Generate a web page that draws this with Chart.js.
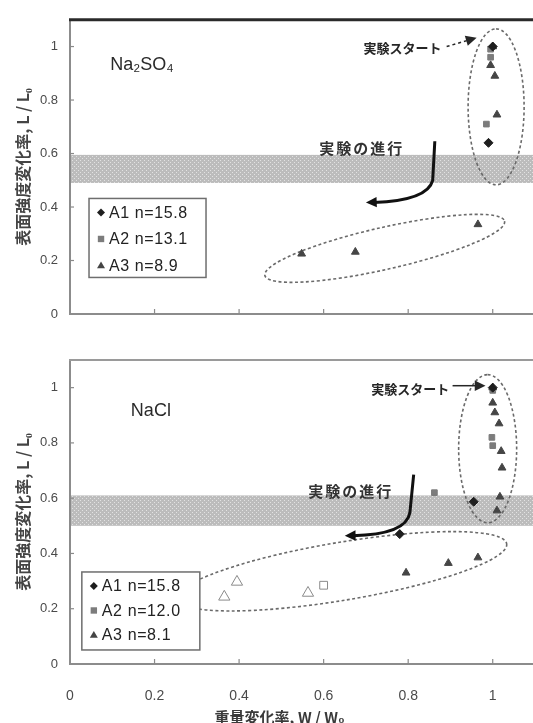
<!DOCTYPE html>
<html lang="ja">
<head>
<meta charset="UTF-8">
<title>表面強度変化率と重量変化率</title>
<script src="https://cdn.jsdelivr.net/npm/chart.js"></script>
<style>
  html, body { margin: 0; padding: 0; background: #fff; overflow: hidden; }
  #wrap { position: relative; width: 533px; height: 723px; overflow: hidden; }
  .box { position: absolute; left: 0; width: 545px; }
  #topBox { top: 0; height: 340px; }
  #botBox { top: 340px; height: 383px; }
</style>
</head>
<body>
<div id="wrap">
  <div class="box" id="topBox"><canvas id="chartTop"></canvas></div>
  <div class="box" id="botBox"><canvas id="chartBottom"></canvas></div>
</div>

<script>
/****************************************************************
  1) DATA  (W/W0 on x, L/L0 on y)
****************************************************************/
// Na2SO4 panel
const so4A1_W = [1.00, 0.99];
const so4A1_L = [1.00, 0.64];
const so4A2_W = [0.995, 0.995, 0.985];
const so4A2_L = [0.99, 0.96, 0.71];
const so4A3_W = [1.00, 0.995, 1.005, 1.01, 0.965, 0.675, 0.548];
const so4A3_L = [1.00, 0.93, 0.89, 0.745, 0.335, 0.232, 0.225];

// NaCl panel
const clA1_W = [1.00, 0.955, 0.78];
const clA1_L = [1.00, 0.587, 0.47];
const clA2_W = [1.00, 0.998, 1.00, 0.862];
const clA2_L = [0.99, 0.82, 0.79, 0.62];
const clA3_W = [1.00, 1.00, 1.005, 1.015, 1.02, 1.022, 1.017, 1.01, 0.965, 0.895, 0.795];
const clA3_L = [1.00, 0.945, 0.91, 0.87, 0.77, 0.71, 0.605, 0.555, 0.385, 0.365, 0.33];
// open markers (no legend entry)
const clA2open_W = [0.60];
const clA2open_L = [0.285];
const clA3open_W = [0.365, 0.395, 0.563];
const clA3open_L = [0.243, 0.297, 0.257];

// legend texts
const legendTop    = ['A1 n=15.8', 'A2 n=13.1', 'A3 n=8.9'];
const legendBottom = ['A1 n=15.8', 'A2 n=12.0', 'A3 n=8.1'];

// shaded band limits (L/L0)
const bandTop    = [0.49, 0.595];
const bandBottom = [0.50, 0.61];

const xTitle = '重量変化率, W / W₀';
const yTitle = '表面強度変化率, L / L₀';

/****************************************************************
  2) ANNOTATIONS (value coordinates)
****************************************************************/
const decoCfg = {
  chartTop: {
    band: bandTop,
    topBorder: { color: '#2a2a2a', width: 3 },
    salt: { text: 'Na₂SO₄', at: [0.095, 0.93] },
    ellipses: [
      { from: [1.008, 0.483], to: [1.008, 1.066], half: 28 },
      { from: [0.461, 0.144], to: [1.028, 0.347], half: 21 }
    ],
    start: { text: '実験スタート', textAt: [0.879, 0.996], from: [0.891, 1.0], to: [0.962, 1.033], dashed: true },
    prog: { text: '実験の進行', textAt: [0.69, 0.62],
            path: [[0.863, 0.646], [0.858, 0.50], [0.846, 0.425], [0.70, 0.417]] },
    legend: { at: [0.045, 0.432], texts: legendTop, w: 117, h: 79, step: 26.5 },
    xTitle: null
  },
  chartBottom: {
    band: bandBottom,
    topBorder: { color: '#9a9a9a', width: 2 },
    salt: { text: 'NaCl', at: [0.144, 0.917] },
    ellipses: [
      { from: [0.988, 0.511], to: [0.988, 1.047], half: 29 },
      { from: [0.253, 0.236], to: [1.033, 0.435], half: 29 }
    ],
    start: { text: '実験スタート', textAt: [0.897, 0.996], from: [0.905, 1.007], to: [0.983, 1.007], dashed: false },
    prog: { text: '実験の進行', textAt: [0.664, 0.625],
            path: [[0.813, 0.685], [0.804, 0.547], [0.795, 0.468], [0.65, 0.464]] },
    legend: { at: [0.028, 0.333], texts: legendBottom, w: 118, h: 78, step: 24.5 },
    xTitle: xTitle
  }
};

const markers = [
  { style: 'rectRot',  r: 4.5, fill: '#1e1e1e', stroke: '#1e1e1e' },
  { style: 'rect',     r: 4,   fill: '#7c7c7c', stroke: '#7c7c7c' },
  { style: 'triangle', r: 4.5, fill: '#454545', stroke: '#454545' }
];

/****************************************************************
  3) DRAW HELPERS
****************************************************************/
function hatch(ctx) {
  const p = document.createElement('canvas');
  p.width = 4; p.height = 4;
  const g = p.getContext('2d');
  g.fillStyle = '#bcbcbc'; g.fillRect(0, 0, 4, 4);
  g.fillStyle = '#e2e2e2'; g.fillRect(0, 0, 1, 1); g.fillRect(2, 2, 1, 1);
  return ctx.createPattern(p, 'repeat');
}

function arrowHead(ctx, tx, ty, ang, size) {
  ctx.beginPath();
  ctx.moveTo(tx, ty);
  ctx.lineTo(tx - size * Math.cos(ang - 0.45), ty - size * Math.sin(ang - 0.45));
  ctx.lineTo(tx - size * Math.cos(ang + 0.45), ty - size * Math.sin(ang + 0.45));
  ctx.closePath();
  ctx.fill();
}

function symbol(ctx, m, x, y, r) {
  ctx.fillStyle = m.fill;
  ctx.beginPath();
  if (m.style === 'rectRot') {
    ctx.moveTo(x, y - r); ctx.lineTo(x + r, y); ctx.lineTo(x, y + r); ctx.lineTo(x - r, y);
  } else if (m.style === 'rect') {
    ctx.rect(x - r * 0.8, y - r * 0.8, r * 1.6, r * 1.6);
  } else {
    ctx.moveTo(x, y - r); ctx.lineTo(x + r, y + r * 0.7); ctx.lineTo(x - r, y + r * 0.7);
  }
  ctx.closePath();
  ctx.fill();
}

const deco = {
  id: 'deco',
  beforeDatasetsDraw(chart) {
    const c = decoCfg[chart.canvas.id];
    const { ctx, chartArea: a, scales: { x, y } } = chart;
    ctx.save();
    // band
    const yHi = y.getPixelForValue(c.band[1]), yLo = y.getPixelForValue(c.band[0]);
    ctx.fillStyle = hatch(ctx);
    ctx.fillRect(a.left + 1, yHi, a.right - a.left, yLo - yHi);
    // dashed ellipses
    ctx.strokeStyle = '#6a6a6a';
    ctx.lineWidth = 1.6;
    ctx.setLineDash([3, 2.5]);
    c.ellipses.forEach(e => {
      const x1 = x.getPixelForValue(e.from[0]), y1 = y.getPixelForValue(e.from[1]);
      const x2 = x.getPixelForValue(e.to[0]),   y2 = y.getPixelForValue(e.to[1]);
      const r = Math.hypot(x2 - x1, y2 - y1) / 2;
      ctx.beginPath();
      ctx.ellipse((x1 + x2) / 2, (y1 + y2) / 2, r, e.half, Math.atan2(y2 - y1, x2 - x1), 0, Math.PI * 2);
      ctx.stroke();
    });
    ctx.restore();
  },
  afterDraw(chart) {
    const c = decoCfg[chart.canvas.id];
    const { ctx, chartArea: a, scales: { x, y } } = chart;
    const px = v => x.getPixelForValue(v), py = v => y.getPixelForValue(v);
    ctx.save();

    // top border
    ctx.strokeStyle = c.topBorder.color;
    ctx.lineWidth = c.topBorder.width;
    ctx.beginPath(); ctx.moveTo(a.left - 1, a.top); ctx.lineTo(a.right + 5, a.top); ctx.stroke();

    // inside tick marks
    ctx.strokeStyle = '#8a8a8a';
    ctx.lineWidth = 1.2;
    y.ticks.forEach(t => {
      if (t.value === 0) return;
      const yy = py(t.value);
      ctx.beginPath(); ctx.moveTo(a.left, yy); ctx.lineTo(a.left + 4, yy); ctx.stroke();
    });
    x.ticks.forEach(t => {
      if (t.value === 0) return;
      const xx = px(t.value);
      ctx.beginPath(); ctx.moveTo(xx, a.bottom); ctx.lineTo(xx, a.bottom - 5); ctx.stroke();
    });

    // salt name
    ctx.fillStyle = '#2a2a2a';
    ctx.font = '18px "Liberation Sans", Arial, sans-serif';
    ctx.textAlign = 'left';
    ctx.textBaseline = 'middle';
    ctx.fillText(c.salt.text, px(c.salt.at[0]), py(c.salt.at[1]));

    // start arrow
    const s = c.start;
    ctx.font = 'bold 13px "Noto Sans CJK JP", sans-serif';
    ctx.textAlign = 'right';
    ctx.fillStyle = '#262626';
    ctx.fillText(s.text, px(s.textAt[0]), py(s.textAt[1]));
    const sx1 = px(s.from[0]), sy1 = py(s.from[1]), sx2 = px(s.to[0]), sy2 = py(s.to[1]);
    const sa = Math.atan2(sy2 - sy1, sx2 - sx1);
    ctx.strokeStyle = '#262626';
    ctx.lineWidth = 1.5;
    ctx.setLineDash(s.dashed ? [3, 3] : []);
    ctx.beginPath(); ctx.moveTo(sx1, sy1);
    ctx.lineTo(sx2 - 9 * Math.cos(sa), sy2 - 9 * Math.sin(sa)); ctx.stroke();
    ctx.setLineDash([]);
    arrowHead(ctx, sx2, sy2, sa, 12);

    // progress arrow
    const g = c.prog;
    ctx.font = 'bold 15px "Noto Sans CJK JP", sans-serif';
    ctx.textAlign = 'center';
    ctx.fillStyle = '#333';
    if ('letterSpacing' in ctx) ctx.letterSpacing = '2px';
    ctx.fillText(g.text, px(g.textAt[0]), py(g.textAt[1]));
    if ('letterSpacing' in ctx) ctx.letterSpacing = '0px';
    const P = g.path.map(p => [px(p[0]), py(p[1])]);
    ctx.lineWidth = 3;
    ctx.strokeStyle = '#111';
    ctx.fillStyle = '#111';
    ctx.beginPath();
    ctx.moveTo(P[0][0], P[0][1]);
    ctx.lineTo(P[1][0], P[1][1]);
    ctx.quadraticCurveTo(P[2][0], P[2][1], P[3][0] + 8, P[3][1]);
    ctx.stroke();
    arrowHead(ctx, P[3][0], P[3][1], Math.atan2(P[3][1] - P[2][1], P[3][0] - P[2][0]), 12);

    // legend box
    const L = c.legend;
    const lx = px(L.at[0]), ly = py(L.at[1]);
    ctx.fillStyle = '#fff';
    ctx.fillRect(lx, ly, L.w, L.h);
    ctx.strokeStyle = '#6e6e6e';
    ctx.lineWidth = 1.5;
    ctx.strokeRect(lx, ly, L.w, L.h);
    ctx.font = '16px "Liberation Sans", Arial, sans-serif';
    ctx.textAlign = 'left';
    if ('letterSpacing' in ctx) ctx.letterSpacing = '0.6px';
    L.texts.forEach((t, i) => {
      const yy = ly + 14 + i * L.step;
      symbol(ctx, markers[i], lx + 12, yy, 4);
      ctx.fillStyle = '#222';
      ctx.fillText(t, lx + 20, yy + 1);
    });
    if ('letterSpacing' in ctx) ctx.letterSpacing = '0px';

    // x title (bottom panel only)
    if (c.xTitle) {
      ctx.font = 'bold 15px "Noto Sans CJK JP", sans-serif';
      ctx.textAlign = 'center';
      ctx.fillStyle = '#3a3a3a';
      ctx.fillText(c.xTitle, px(0.496), a.bottom + 53);
    }
    ctx.restore();
  }
};

/****************************************************************
  4) CHARTS
****************************************************************/
const pts = (xs, ys) => xs.map((v, i) => ({ x: v, y: ys[i] }));

function ds(label, data, m, open) {
  return {
    label, data,
    pointStyle: m.style,
    pointRadius: m.r,
    pointBackgroundColor: open ? '#fff' : m.fill,
    pointBorderColor: open ? '#8a8a8a' : m.stroke,
    pointBorderWidth: 1,
    showLine: false
  };
}

function makeChart(id, datasets, withXLabels, topPad, xHeight) {
  return new Chart(document.getElementById(id), {
    type: 'scatter',
    data: { datasets },
    options: {
      responsive: true,
      maintainAspectRatio: false,
      animation: false,
      devicePixelRatio: 1,
      layout: { padding: { top: topPad, right: 10, left: 0, bottom: 0 } },
      plugins: { legend: { display: false }, tooltip: { enabled: false } },
      scales: {
        x: {
          type: 'linear', min: 0, max: 1.1,
          grid: { display: false, drawTicks: false },
          border: { display: true, color: '#8c8c8c', width: 2 },
          ticks: {
            display: withXLabels, stepSize: 0.2, includeBounds: false, padding: 24,
            color: '#4a4a4a', font: { family: '"Liberation Sans", Arial', size: 14 },
            callback: v => String(Number(v.toFixed(1)))
          },
          afterFit: s => { s.height = xHeight; }
        },
        y: {
          min: 0, max: 1.1,
          grid: { display: false, drawTicks: false },
          border: { display: true, color: '#8c8c8c', width: 2 },
          ticks: {
            stepSize: 0.2, includeBounds: false, padding: 12,
            color: '#4a4a4a', font: { family: '"Liberation Sans", Arial', size: 13 },
            callback: v => String(Number(v.toFixed(1)))
          },
          title: {
            display: true, text: yTitle, color: '#444',
            font: { family: '"Noto Sans CJK JP"', size: 16, weight: 'bold' },
            padding: { top: 13, bottom: 0 }
          },
          afterFit: s => { s.width = 70; }
        }
      }
    },
    plugins: [deco]
  });
}

makeChart('chartTop', [
  ds('A1', pts(so4A1_W, so4A1_L), markers[0]),
  ds('A2', pts(so4A2_W, so4A2_L), markers[1]),
  ds('A3', pts(so4A3_W, so4A3_L), markers[2])
], false, 16, 26);

makeChart('chartBottom', [
  ds('A1', pts(clA1_W, clA1_L), markers[0]),
  ds('A2', pts(clA2_W, clA2_L), markers[1]),
  ds('A3', pts(clA3_W, clA3_L), markers[2]),
  ds('A2 open', pts(clA2open_W, clA2open_L), { style: 'rect', r: 5.5 }, true),
  ds('A3 open', pts(clA3open_W, clA3open_L), { style: 'triangle', r: 6.5 }, true)
], true, 20, 59);
</script>
</body>
</html>
